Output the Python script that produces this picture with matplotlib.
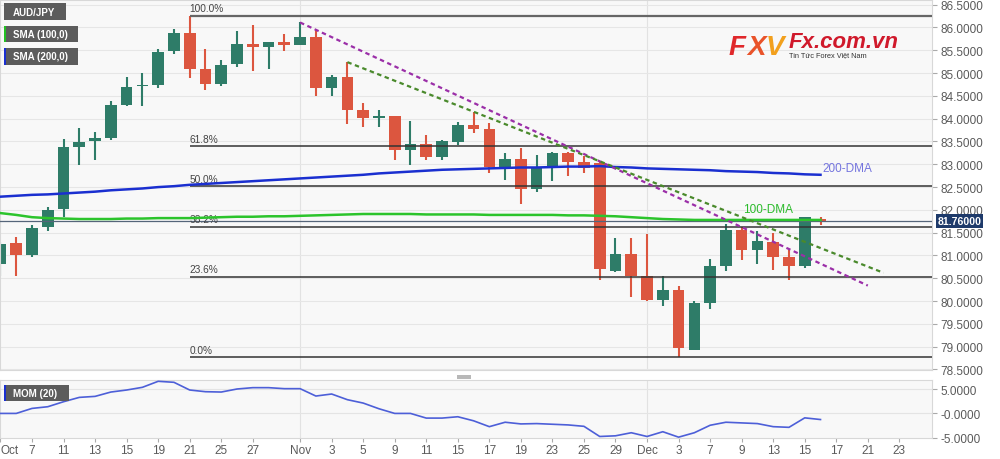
import numpy as np
import pandas as pd
import matplotlib
matplotlib.use("Agg")
import matplotlib.pyplot as plt
import matplotlib.transforms as mtransforms
from matplotlib.patches import Rectangle

plt.rcParams['font.family'] = ['Liberation Sans', 'DejaVu Sans']

# AUD/JPY daily candles, from 2021-10-05 to 2021-12-16
opens = [80.81, 81.27, 81.01, 81.62, 82.02, 83.39, 83.51, 83.57, 84.30, 84.71,
         84.74, 85.48, 85.89, 85.10, 84.75, 85.19, 85.63, 85.57, 85.69, 85.62,
         85.80, 84.67, 84.91, 84.18, 84.01, 84.05, 83.32, 83.44, 83.15, 83.48,
         83.86, 83.77, 82.93, 83.12, 82.45, 82.95, 83.24, 83.06, 83.03, 80.65,
         81.03, 80.54, 80.03, 80.25, 78.93, 79.96, 80.78, 81.56, 81.13, 81.30,
         80.97, 80.78, 81.80]
highs = [81.30, 81.40, 81.67, 82.06, 83.55, 83.79, 83.70, 84.39, 84.92, 85.00,
         85.53, 85.97, 86.26, 85.53, 85.29, 85.92, 86.06, 85.69, 85.85, 86.11,
         85.94, 84.96, 85.24, 84.34, 84.18, 84.06, 83.96, 83.64, 83.54, 83.92,
         84.15, 83.90, 83.25, 83.35, 83.20, 83.26, 83.27, 83.19, 83.04, 81.39,
         81.39, 81.47, 80.54, 80.34, 80.00, 80.92, 81.68, 81.63, 81.53, 81.49,
         81.12, 81.85, 81.84]
lows = [80.56, 80.56, 80.97, 81.54, 81.84, 82.99, 83.10, 83.53, 84.27, 84.27,
        84.67, 85.42, 84.89, 84.62, 84.71, 85.13, 85.05, 85.10, 85.48, 85.61,
        84.49, 84.50, 83.88, 83.82, 83.82, 83.10, 82.99, 83.10, 83.10, 83.42,
        83.69, 82.82, 82.66, 82.14, 82.39, 82.64, 82.75, 82.80, 80.47, 80.64,
        80.10, 80.00, 79.89, 78.77, 78.93, 79.83, 80.67, 80.91, 80.81, 80.69,
        80.47, 80.72, 81.66]
closes = [81.25, 81.01, 81.61, 82.00, 83.37, 83.48, 83.57, 84.31, 84.70, 84.73,
          85.47, 85.89, 85.10, 84.75, 85.18, 85.63, 85.57, 85.68, 85.62, 85.80,
          84.67, 84.91, 84.19, 84.01, 84.07, 83.31, 83.44, 83.15, 83.52, 83.86,
          83.77, 82.93, 83.12, 82.45, 82.93, 83.24, 83.06, 82.92, 80.70, 81.03,
          80.56, 80.03, 80.25, 78.97, 79.96, 80.76, 81.56, 81.12, 81.32, 80.97,
          80.78, 81.84, 81.76]

sma100 = [81.93, 81.89, 81.84, 81.82, 81.81, 81.80, 81.80, 81.80, 81.81, 81.81,
          81.82, 81.82, 81.82, 81.83, 81.84, 81.85, 81.85, 81.86, 81.86, 81.87,
          81.88, 81.89, 81.90, 81.91, 81.91, 81.91, 81.91, 81.90, 81.90, 81.90,
          81.90, 81.89, 81.89, 81.89, 81.89, 81.89, 81.88, 81.88, 81.87, 81.86,
          81.84, 81.82, 81.80, 81.79, 81.78, 81.78, 81.78, 81.78, 81.78, 81.78,
          81.78, 81.78, 81.78]
sma200 = [82.29, 82.31, 82.33, 82.34, 82.36, 82.38, 82.40, 82.43, 82.45, 82.47,
          82.50, 82.52, 82.55, 82.57, 82.59, 82.61, 82.63, 82.65, 82.67, 82.69,
          82.71, 82.73, 82.75, 82.77, 82.80, 82.82, 82.84, 82.86, 82.88, 82.89,
          82.90, 82.91, 82.92, 82.93, 82.93, 82.94, 82.95, 82.95, 82.96, 82.94,
          82.93, 82.91, 82.90, 82.89, 82.88, 82.87, 82.85, 82.84, 82.83, 82.81,
          82.80, 82.78, 82.77]
mom20 = [0.00, 0.00, 1.04, 1.39, 2.43, 3.33, 3.54, 4.44, 4.86, 5.42,
         6.67, 6.46, 4.86, 4.51, 4.44, 5.07, 5.35, 5.35, 5.14, 5.14,
         3.61, 4.03, 2.85, 2.15, 0.97, 0.00, 0.00, -0.97, -0.97, -0.69,
         -1.53, -2.75, -1.83, -2.18, -2.11, -2.25, -2.39, -2.68, -4.79, -4.65,
         -4.01, -4.79, -3.80, -4.93, -4.01, -2.46, -1.83, -1.97, -2.11, -2.75,
         -2.89, -0.92, -1.27]

last_price = 81.76
fib_high, fib_low = 86.26, 78.77
fib_levels = [1.0, 0.618, 0.5, 0.382, 0.236, 0.0]
fib_labels = ['100.0%', '61.8%', '50.0%', '38.2%', '23.6%', '0.0%']
fib_start = '2021-10-21'

# trend lines: (date, price) at both ends
trend_purple = [('2021-11-01', 86.11), ('2021-12-21', 80.34)]
trend_green = [('2021-11-04', 85.24), ('2021-12-22', 80.62)]

tick_dates = ['2021-10-05', '2021-10-07', '2021-10-11', '2021-10-13', '2021-10-15',
              '2021-10-19', '2021-10-21', '2021-10-25', '2021-10-27', '2021-11-01',
              '2021-11-03', '2021-11-05', '2021-11-09', '2021-11-11', '2021-11-15',
              '2021-11-17', '2021-11-19', '2021-11-23', '2021-11-25', '2021-11-29',
              '2021-12-01', '2021-12-03', '2021-12-07', '2021-12-09', '2021-12-13',
              '2021-12-15', '2021-12-17', '2021-12-21', '2021-12-23']
tick_labels = ['Oct', '7', '11', '13', '15', '19', '21', '25', '27', 'Nov',
               '3', '5', '9', '11', '15', '17', '19', '23', '25', '29',
               'Dec', '3', '7', '9', '13', '15', '17', '21', '23']
month_starts = ['2021-11-01', '2021-12-01']

GREEN = '#2e7c68'
RED = '#dc563f'
TXT = '#5a5a5a'

days = pd.bdate_range('2021-10-05', '2021-12-31')
def pos(d):
    return days.get_loc(pd.Timestamp(d))

opens, highs, lows, closes = map(np.array, (opens, highs, lows, closes))
x = np.arange(len(opens))

W, H = 1000, 460
def fx(p):
    return p / W
def fy(p):
    return 1 - p / H

fig = plt.figure(figsize=(10, 4.6), dpi=100)
ax = fig.add_axes([0, fy(371), fx(932), (371 - 1) / H])
ax2 = fig.add_axes([0, fy(438.5), fx(932), (438.5 - 381) / H])
xlim = (-0.03, 59.07)

for a in (ax, ax2):
    a.set_facecolor('#f8f8f8')
    a.set_xlim(*xlim)
    for s in a.spines.values():
        s.set_color('#d8d8d8')
        s.set_linewidth(0.8)
    for d in month_starts:
        a.axvline(pos(d), color='#e2e2e2', lw=0.8, zorder=0)

# main panel
ax.set_ylim(78.489, 86.603)
yt = np.arange(78.5, 86.51, 0.5)
ax.set_yticks(yt)
ax.set_yticklabels([f'{v:.4f}' for v in yt])
ax.yaxis.tick_right()
ax.tick_params(axis='y', length=3.5, width=0.8, color='#aaaaaa', labelsize=8.5,
               labelcolor=TXT, pad=2.5)
ax.tick_params(axis='x', length=0, labelbottom=False)
for v in yt:
    ax.axhline(v, color='#e6e6e6', lw=0.8, zorder=0)

up = closes >= opens
cols = np.where(up, GREEN, RED)
ax.vlines(x, lows, highs, color=cols, lw=1.5, zorder=2)
ax.bar(x, np.maximum(np.abs(closes - opens), 0.035), bottom=np.minimum(opens, closes),
       width=0.74, color=cols, lw=0, zorder=2)

ax.axhline(last_price, color='#55657a', lw=0.9, zorder=3)

x0 = pos(fib_start)
for lv, lab in zip(fib_levels, fib_labels):
    p = fib_low + lv * (fib_high - fib_low)
    ax.hlines(p, x0, xlim[1], color='#666666' if lv == 1.0 else '#333333',
              lw=1.6 if lv == 1.0 else 1.1, zorder=3)
    ax.text(x0, p + 0.05, lab, fontsize=7.3, color='#444444', ha='left', va='bottom', zorder=3)

ax.plot(x, sma200, color='#1a2fd0', lw=1.8, zorder=4)
ax.plot(x, sma100, color='#2cc42c', lw=1.8, zorder=4)

for tl, c in ((trend_purple, '#9b2fa8'), (trend_green, '#4a8a2c')):
    ax.plot([pos(tl[0][0]), pos(tl[1][0])], [tl[0][1], tl[1][1]], color=c, lw=1.6,
            linestyle=(0, (2, 1.6)), zorder=5)

ax.text(52.1, 82.92, '200-DMA', color='#7474de', fontsize=8.5, ha='left', va='center')
ax.text(47.1, 82.02, '100-DMA', color='#2cbb2c', fontsize=8.5, ha='left', va='center')

trans = mtransforms.blended_transform_factory(ax.transAxes, ax.transData)
ax.text(1.006, last_price, '81.76000', transform=trans, color='white', fontsize=7.6,
        fontweight='bold', ha='left', va='center', clip_on=False, zorder=10,
        bbox=dict(boxstyle='square,pad=0.18', fc='#1e3a6a', ec='none'))

# momentum panel
ax2.plot(x, mom20, color='#4d5fd8', lw=1.2, zorder=3)
ax2.set_ylim(-5.0, 6.94)
ax2.set_yticks([5, 0, -5])
ax2.set_yticklabels(['5.0000', '-0.0000', '-5.0000'])
ax2.yaxis.tick_right()
ax2.tick_params(axis='y', length=3.5, width=0.8, color='#aaaaaa', labelsize=8.5,
                labelcolor=TXT, pad=2.5)
for v in (5, 0):
    ax2.axhline(v, color='#e4e4e4', lw=0.8, zorder=0)
ax2.set_xticks([pos(d) for d in tick_dates])
ax2.set_xticklabels(tick_labels)
ax2.tick_params(axis='x', length=3, width=0.8, color='#aaaaaa', labelsize=8.5,
                labelcolor=TXT, pad=2)
ax2.get_xticklabels()[0].set_horizontalalignment('left')

# legend tags
def tag(x0, y0, x1, y1, label, strip=None):
    fig.add_artist(Rectangle((fx(x0), fy(y1)), fx(x1 - x0), (y1 - y0) / H,
                             transform=fig.transFigure, fc='#5c5c5c', ec='none'))
    if strip:
        fig.add_artist(Rectangle((fx(x0), fy(y1)), fx(2), (y1 - y0) / H,
                                 transform=fig.transFigure, fc=strip, ec='none'))
    fig.text(fx(x0 + 9), fy((y0 + y1) / 2), label, color='white', fontsize=7,
             fontweight='bold', ha='left', va='center')

tag(4, 4, 66, 21, 'AUD/JPY')
tag(4, 27, 78, 43, 'SMA (100,0)', '#22c022')
tag(4, 49, 78, 66, 'SMA (200,0)', '#1a2fd0')
tag(4, 386, 69, 402, 'MOM (20)', '#1a2fd0')

# panel handle
fig.add_artist(Rectangle((fx(457), fy(379.5)), fx(14), 4 / H, transform=fig.transFigure,
                         fc='#b8b8b8', ec='none'))

# logo
for ch, cx, c in (('F', 729, '#e0282b'), ('X', 747, '#e9532a'), ('V', 766, '#f2a01d')):
    fig.text(fx(cx), fy(55), ch, color=c, fontsize=20, fontweight='bold',
             fontstyle='italic', ha='left', va='baseline')
fig.text(fx(789), fy(48), 'Fx.com.vn', color='#d0192b', fontsize=16, fontweight='bold',
         fontstyle='italic', ha='left', va='baseline')
fig.text(fx(789), fy(57), 'Tin Tức Forex Việt Nam', color='#333333', fontsize=5.3,
         ha='left', va='baseline')

fig.savefig('out.png', dpi=100, facecolor='white')
